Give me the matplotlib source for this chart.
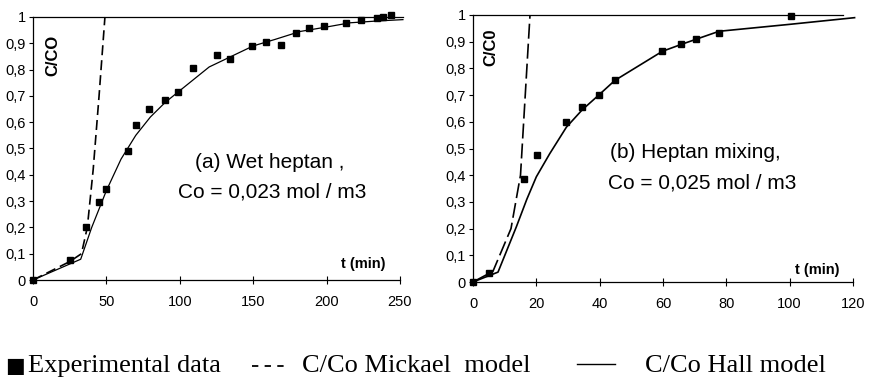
import matplotlib
matplotlib.use("Agg")
import matplotlib.pyplot as plt

# ---------------- data ----------------
# Panel (a): wet heptan
exp_a_t = [0, 25, 36, 45, 50, 65, 70, 79, 90, 99, 109, 125, 134.5, 149, 159, 169, 179, 188, 198, 213.5, 223.5, 234, 238.5, 244]
exp_a_y = [0, 0.076, 0.20, 0.295, 0.346, 0.49, 0.59, 0.652, 0.685, 0.716, 0.806, 0.855, 0.841, 0.89, 0.904, 0.895, 0.939, 0.957, 0.967, 0.977, 0.987, 0.996, 1.0, 1.006]
mick_a_t = [0, 25, 33, 37, 41, 45, 49]
mick_a_y = [0, 0.07, 0.10, 0.20, 0.42, 0.70, 1.0]
hall_a_t = [0, 32.5, 40, 50, 60, 70, 80, 90, 100, 110, 120, 135, 150, 165, 182, 200, 216, 235, 252]
hall_a_y = [0, 0.079, 0.20, 0.34, 0.46, 0.55, 0.62, 0.675, 0.72, 0.765, 0.81, 0.85, 0.89, 0.915, 0.945, 0.962, 0.978, 0.985, 0.99]

# Panel (b): heptan mixing
exp_b_t = [0, 5, 16, 20.3, 29.5, 34.5, 39.7, 44.8, 59.8, 65.8, 70.5, 77.7, 100.5]
exp_b_y = [0, 0.035, 0.385, 0.474, 0.60, 0.656, 0.702, 0.758, 0.864, 0.89, 0.909, 0.934, 0.996]
mick_b_t = [0, 6.3, 12, 15, 17, 18]
mick_b_y = [0, 0.04, 0.20, 0.40, 0.80, 1.0]
hall_b_t = [0, 7.9, 13.7, 17, 20, 24.2, 29.5, 34.5, 39.7, 44.8, 59.8, 65.8, 77.7, 100, 120.5]
hall_b_y = [0, 0.037, 0.207, 0.31, 0.394, 0.48, 0.58, 0.645, 0.70, 0.755, 0.864, 0.89, 0.939, 0.965, 0.99]

y_ticks = [0, 0.1, 0.2, 0.3, 0.4, 0.5, 0.6, 0.7, 0.8, 0.9, 1.0]
y_ticklabels = ["0", "0,1", "0,2", "0,3", "0,4", "0,5", "0,6", "0,7", "0,8", "0,9", "1"]
x_ticks_a = [0, 50, 100, 150, 200, 250]
x_ticks_b = [0, 20, 40, 60, 80, 100, 120]

ylabel_a = "C/CO"
ylabel_b = "C/C0"
xlabel = "t (min)"
title_a = ["(a) Wet heptan ,", "Co = 0,023 mol / m3"]
title_b = ["(b) Heptan mixing,", "Co = 0,025 mol / m3"]
legend_labels = ["Experimental data", "C/Co Mickael  model", "C/Co Hall model"]

SANS = ["Liberation Sans", "DejaVu Sans"]
SERIF = ["Liberation Serif", "DejaVu Serif"]

W, H = 869, 380
fig = plt.figure(figsize=(W / 100, H / 100), dpi=100)


def px(x0, y0, x1, y1):
    return [x0 / W, 1 - y1 / H, (x1 - x0) / W, (y1 - y0) / H]


def setup(ax, xmax, xticks, ylabel, yl_pos, xl_pos, title, t_pos, hline_end):
    ax.set_xlim(0, xmax)
    ax.set_ylim(0, 1)
    for s in ["top", "right"]:
        ax.spines[s].set_visible(False)
    for s in ["left", "bottom"]:
        ax.spines[s].set_linewidth(0.9)
    ax.axhline(1, xmin=0, xmax=hline_end, color="black", lw=0.9, clip_on=False)
    ax.set_yticks(y_ticks)
    ax.set_yticklabels(y_ticklabels, family=SANS, fontsize=10.5)
    ax.set_xticks(xticks)
    ax.set_xticklabels([str(v) for v in xticks], family=SANS, fontsize=10.5)
    ax.tick_params(axis="y", direction="out", length=3, width=0.8, pad=2)
    ax.tick_params(axis="x", direction="inout", length=6, width=0.8, pad=8)
    fig.text(yl_pos[0] / W, 1 - yl_pos[1] / H, ylabel, rotation=90, ha="center", va="center",
             family=SANS, fontsize=12, fontweight="bold")
    fig.text(xl_pos[0] / W, 1 - xl_pos[1] / H, xlabel, ha="center", va="center",
             family=SANS, fontsize=10.5, fontweight="bold")
    fig.text(t_pos[0][0] / W, 1 - t_pos[0][1] / H, title[0], ha="center", va="center",
             family=SANS, fontsize=15)
    fig.text(t_pos[1][0] / W, 1 - t_pos[1][1] / H, title[1], ha="center", va="center",
             family=SANS, fontsize=15)


ax1 = fig.add_axes(px(33, 17, 400, 280))
ax1.plot(hall_a_t, hall_a_y, color="black", lw=0.9, clip_on=False)
ax1.plot(mick_a_t, mick_a_y, color="black", lw=1.2, ls=(0, (6, 3)), clip_on=False)
ax1.plot(exp_a_t, exp_a_y, ls="none", marker="s", ms=4.5, color="black", clip_on=False)
setup(ax1, 250, x_ticks_a, ylabel_a, (53, 55), (363, 264), title_a, [(270, 163), (272, 192)], 1.008)

ax2 = fig.add_axes(px(473, 15, 853, 282))
ax2.plot(hall_b_t, hall_b_y, color="black", lw=1.2, clip_on=False)
ax2.plot(mick_b_t, mick_b_y, color="black", lw=1.2, ls=(0, (9, 3)), clip_on=False)
ax2.plot(exp_b_t, exp_b_y, ls="none", marker="s", ms=4.5, color="black", clip_on=False)
setup(ax2, 120, x_ticks_b, ylabel_b, (491, 47), (817, 270), title_b, [(695, 153), (702, 183)], 0.974)

# ---------------- bottom legend ----------------
base_y = 1 - 372 / H
fig.text(5 / W, base_y, "\u25A0", family=["DejaVu Sans"], fontsize=15, va="baseline", ha="left")
fig.text(28 / W, base_y, legend_labels[0], family=SERIF, fontsize=19, va="baseline", ha="left")
fig.add_artist(plt.Line2D([252 / W, 284 / W], [1 - 366 / H, 1 - 366 / H], color="black",
                          lw=1.3, ls=(0, (3.5, 3.5))))
fig.text(302 / W, base_y, legend_labels[1], family=SERIF, fontsize=19, va="baseline", ha="left")
fig.add_artist(plt.Line2D([577 / W, 615 / W], [1 - 364 / H, 1 - 364 / H], color="black", lw=1.0))
fig.text(645 / W, base_y, legend_labels[2], family=SERIF, fontsize=19, va="baseline", ha="left")

fig.savefig("out.png", dpi=100)
